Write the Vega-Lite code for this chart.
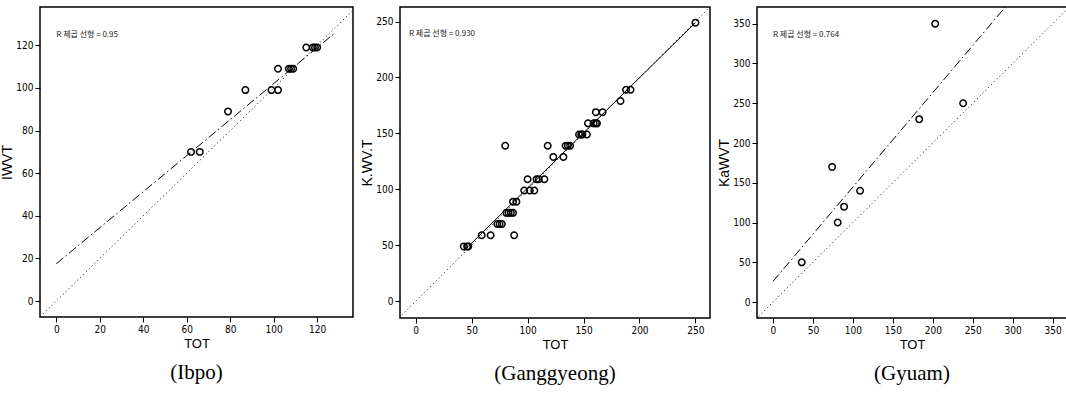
{
  "$schema": "https://vega.github.io/schema/vega-lite/v6.json",
  "background": "white",
  "padding": {"left": 0, "top": 6, "right": 0, "bottom": 0},
  "spacing": 6,
  "datasets": {
    "ibpo": [
      {"TOT": 62, "V": 70}, {"TOT": 66, "V": 70}, {"TOT": 79, "V": 89},
      {"TOT": 87, "V": 99}, {"TOT": 99, "V": 99}, {"TOT": 102, "V": 99},
      {"TOT": 102, "V": 109}, {"TOT": 107, "V": 109}, {"TOT": 108, "V": 109},
      {"TOT": 109, "V": 109}, {"TOT": 115, "V": 119}, {"TOT": 118, "V": 119},
      {"TOT": 119, "V": 119}, {"TOT": 120, "V": 119}
    ],
    "ibpo_lines": [
      {"kind": "identity", "TOT": -10, "V": -10}, {"kind": "identity", "TOT": 145, "V": 145},
      {"kind": "fit", "TOT": 0, "V": 17.5}, {"kind": "fit", "TOT": 128, "V": 125.7}
    ],
    "ibpo_note": [{"TOT": 0, "V": 125, "label": "R 제곱 선형 = 0.95"}],
    "gang": [
      {"TOT": 43, "V": 49}, {"TOT": 46, "V": 49}, {"TOT": 47, "V": 49},
      {"TOT": 59, "V": 59}, {"TOT": 67, "V": 59}, {"TOT": 73, "V": 69},
      {"TOT": 75, "V": 69}, {"TOT": 77, "V": 69}, {"TOT": 80, "V": 139},
      {"TOT": 81, "V": 79}, {"TOT": 83, "V": 79}, {"TOT": 85, "V": 79},
      {"TOT": 87, "V": 79}, {"TOT": 88, "V": 59}, {"TOT": 87, "V": 89},
      {"TOT": 90, "V": 89}, {"TOT": 97, "V": 99}, {"TOT": 100, "V": 109},
      {"TOT": 102, "V": 99}, {"TOT": 106, "V": 99}, {"TOT": 108, "V": 109},
      {"TOT": 110, "V": 109}, {"TOT": 115, "V": 109}, {"TOT": 118, "V": 139},
      {"TOT": 123, "V": 129}, {"TOT": 132, "V": 129}, {"TOT": 134, "V": 139},
      {"TOT": 136, "V": 139}, {"TOT": 138, "V": 139}, {"TOT": 146, "V": 149},
      {"TOT": 148, "V": 149}, {"TOT": 149, "V": 149}, {"TOT": 153, "V": 149},
      {"TOT": 154, "V": 159}, {"TOT": 159, "V": 159}, {"TOT": 161, "V": 159},
      {"TOT": 162, "V": 159}, {"TOT": 161, "V": 169}, {"TOT": 167, "V": 169},
      {"TOT": 183, "V": 179}, {"TOT": 188, "V": 189}, {"TOT": 192, "V": 189},
      {"TOT": 250, "V": 249}
    ],
    "gang_lines": [
      {"kind": "identity", "TOT": -20, "V": -20}, {"kind": "identity", "TOT": 270, "V": 270},
      {"kind": "fit", "TOT": 43, "V": 45}, {"kind": "fit", "TOT": 250, "V": 249}
    ],
    "gang_note": [{"TOT": -6, "V": 239, "label": "R 제곱 선형 = 0.930"}],
    "gyuam": [
      {"TOT": 36, "V": 50}, {"TOT": 74, "V": 170}, {"TOT": 81, "V": 100},
      {"TOT": 89, "V": 120}, {"TOT": 109, "V": 140}, {"TOT": 183, "V": 230},
      {"TOT": 203, "V": 350}, {"TOT": 238, "V": 250}
    ],
    "gyuam_lines": [
      {"kind": "identity", "TOT": -25, "V": -25}, {"kind": "identity", "TOT": 380, "V": 380},
      {"kind": "fit", "TOT": 0, "V": 26}, {"kind": "fit", "TOT": 295, "V": 376}
    ],
    "gyuam_note": [{"TOT": 0, "V": 336, "label": "R 제곱 선형 = 0.764"}]
  },
  "hconcat": [
    {
      "width": 313, "height": 310,
      "title": "(Ibpo)",
      "layer": [
        {
          "data": {"name": "ibpo_lines"},
          "transform": [{"filter": "datum.kind == 'identity'"}],
          "mark": {"type": "line", "color": "black", "strokeWidth": 1, "strokeDash": [1, 3], "clip": true},
          "encoding": {
            "x": {"field": "TOT", "type": "quantitative", "scale": {"domain": [-7.5, 136.5], "nice": false, "zero": false}, "axis": {"values": [0, 20, 40, 60, 80, 100, 120], "title": "TOT"}},
            "y": {"field": "V", "type": "quantitative", "scale": {"domain": [-7.5, 138], "nice": false, "zero": false}, "axis": {"values": [0, 20, 40, 60, 80, 100, 120], "title": "IWVT"}}
          }
        },
        {
          "data": {"name": "ibpo_lines"},
          "transform": [{"filter": "datum.kind == 'fit'"}],
          "mark": {"type": "line", "color": "black", "strokeWidth": 1, "strokeDash": [9, 3, 1.5, 3], "clip": true},
          "encoding": {
            "x": {"field": "TOT", "type": "quantitative"},
            "y": {"field": "V", "type": "quantitative"}
          }
        },
        {
          "data": {"name": "ibpo"},
          "mark": {"type": "point", "shape": "circle", "filled": false, "color": "black", "strokeWidth": 1.5, "size": 42, "opacity": 1},
          "encoding": {
            "x": {"field": "TOT", "type": "quantitative"},
            "y": {"field": "V", "type": "quantitative"}
          }
        },
        {
          "data": {"name": "ibpo_note"},
          "mark": {"type": "text", "align": "left", "baseline": "middle", "font": "Noto Sans CJK KR", "fontSize": 8, "color": "#222"},
          "encoding": {
            "x": {"field": "TOT", "type": "quantitative"},
            "y": {"field": "V", "type": "quantitative"},
            "text": {"field": "label"}
          }
        }
      ]
    },
    {
      "width": 310, "height": 311,
      "title": "(Ganggyeong)",
      "layer": [
        {
          "data": {"name": "gang_lines"},
          "transform": [{"filter": "datum.kind == 'identity'"}],
          "mark": {"type": "line", "color": "black", "strokeWidth": 1, "strokeDash": [1, 3], "clip": true},
          "encoding": {
            "x": {"field": "TOT", "type": "quantitative", "scale": {"domain": [-14, 263], "nice": false, "zero": false}, "axis": {"values": [0, 50, 100, 150, 200, 250], "title": "TOT"}},
            "y": {"field": "V", "type": "quantitative", "scale": {"domain": [-15, 263], "nice": false, "zero": false}, "axis": {"values": [0, 50, 100, 150, 200, 250], "title": "K.WV.T"}}
          }
        },
        {
          "data": {"name": "gang_lines"},
          "transform": [{"filter": "datum.kind == 'fit'"}],
          "mark": {"type": "line", "color": "black", "strokeWidth": 1, "clip": true},
          "encoding": {
            "x": {"field": "TOT", "type": "quantitative"},
            "y": {"field": "V", "type": "quantitative"}
          }
        },
        {
          "data": {"name": "gang"},
          "mark": {"type": "point", "shape": "circle", "filled": false, "color": "black", "strokeWidth": 1.5, "size": 42, "opacity": 1},
          "encoding": {
            "x": {"field": "TOT", "type": "quantitative"},
            "y": {"field": "V", "type": "quantitative"}
          }
        },
        {
          "data": {"name": "gang_note"},
          "mark": {"type": "text", "align": "left", "baseline": "middle", "font": "Noto Sans CJK KR", "fontSize": 8, "color": "#222"},
          "encoding": {
            "x": {"field": "TOT", "type": "quantitative"},
            "y": {"field": "V", "type": "quantitative"},
            "text": {"field": "label"}
          }
        }
      ]
    },
    {
      "width": 310, "height": 311,
      "title": "(Gyuam)",
      "layer": [
        {
          "data": {"name": "gyuam_lines"},
          "transform": [{"filter": "datum.kind == 'identity'"}],
          "mark": {"type": "line", "color": "black", "strokeWidth": 1, "strokeDash": [1, 3], "clip": true},
          "encoding": {
            "x": {"field": "TOT", "type": "quantitative", "scale": {"domain": [-20, 368], "nice": false, "zero": false}, "axis": {"values": [0, 50, 100, 150, 200, 250, 300, 350], "title": "TOT"}},
            "y": {"field": "V", "type": "quantitative", "scale": {"domain": [-20, 371], "nice": false, "zero": false}, "axis": {"values": [0, 50, 100, 150, 200, 250, 300, 350], "title": "KaWVT"}}
          }
        },
        {
          "data": {"name": "gyuam_lines"},
          "transform": [{"filter": "datum.kind == 'fit'"}],
          "mark": {"type": "line", "color": "black", "strokeWidth": 1, "strokeDash": [9, 3, 1.5, 3], "clip": true},
          "encoding": {
            "x": {"field": "TOT", "type": "quantitative"},
            "y": {"field": "V", "type": "quantitative"}
          }
        },
        {
          "data": {"name": "gyuam"},
          "mark": {"type": "point", "shape": "circle", "filled": false, "color": "black", "strokeWidth": 1.5, "size": 42, "opacity": 1},
          "encoding": {
            "x": {"field": "TOT", "type": "quantitative"},
            "y": {"field": "V", "type": "quantitative"}
          }
        },
        {
          "data": {"name": "gyuam_note"},
          "mark": {"type": "text", "align": "left", "baseline": "middle", "font": "Noto Sans CJK KR", "fontSize": 8, "color": "#222"},
          "encoding": {
            "x": {"field": "TOT", "type": "quantitative"},
            "y": {"field": "V", "type": "quantitative"},
            "text": {"field": "label"}
          }
        }
      ]
    }
  ],
  "config": {
    "view": {"stroke": "black", "strokeWidth": 1.5},
    "axis": {
      "grid": false, "domain": false, "tickColor": "black", "tickSize": 5, "tickWidth": 1,
      "labelFont": "Liberation Sans Narrow, DejaVu Sans Condensed, Liberation Sans", "labelFontSize": 10, "labelColor": "black", "labelPadding": 2,
      "titleFont": "Liberation Sans", "titleFontWeight": "normal", "titleFontSize": 13, "titleColor": "black", "titlePadding": 3
    },
    "axisY": {"titleFontSize": 14, "titlePadding": 1},
    "title": {"orient": "bottom", "font": "Liberation Serif", "fontSize": 21, "fontWeight": "normal", "color": "black", "offset": 12}
  }
}
